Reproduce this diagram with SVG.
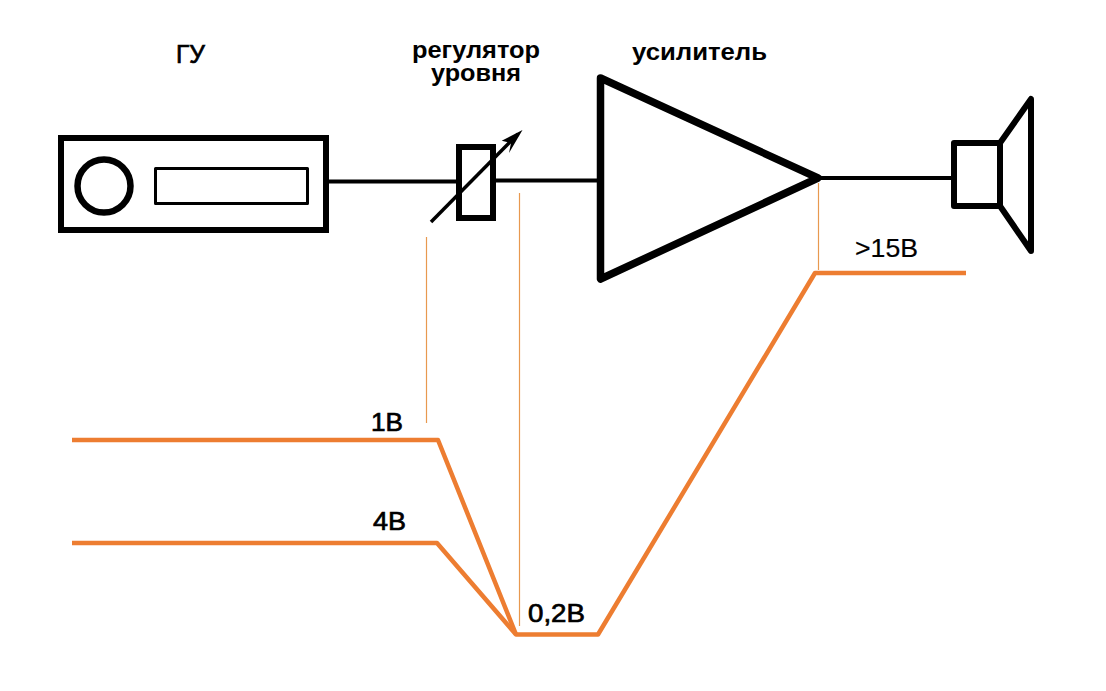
<svg xmlns="http://www.w3.org/2000/svg" width="1106" height="691" viewBox="0 0 1106 691">
<style>
.k{fill:none;stroke:#000;stroke-linejoin:round}
.w{fill:#fff;stroke:#000}
.o{fill:none;stroke:#ed7d31;stroke-width:4.500;stroke-linejoin:round}
.t{fill:none;stroke:#e8994f;stroke-width:1.200}
.l{stroke:#000;stroke-width:4;fill:none}
text{font-family:"Liberation Sans",Arial,sans-serif;fill:#000}
.b{font-weight:bold;font-size:24px}
.m{font-weight:normal;font-size:26px;stroke:#000;stroke-width:.7px}
</style>
<rect width="1106" height="691" fill="#fff"/>
<g id="connectors">
<path class="l" d="M329 181.500H456"/>
<path class="l" d="M496 180.500H600"/>
<path class="l" d="M820 178H952"/>
<path class="t" d="M426.500 237V423"/>
<path class="t" d="M519.500 193V626"/>
<path class="t" d="M818.500 183V270"/>
<path class="o" d="M72 440H438L516 634.500"/>
<path class="o" d="M72 543H437L516 634.500H598L815 273H966"/>
</g>
<g id="head-unit">
<rect class="w" x="61" y="138" width="265" height="92" stroke-width="6"/>
<circle class="k" cx="104" cy="186" r="26.500" stroke-width="6.500"/>
<rect class="k" x="155.500" y="168.500" width="152" height="35" stroke-width="3"/>
<text class="m" x="176" y="63" textLength="29" lengthAdjust="spacingAndGlyphs">ГУ</text>
</g>
<g id="level-control">
<rect class="w" x="459" y="147" width="34" height="71" stroke-width="6"/>
<path class="k" d="M431 222L518 134" stroke-width="3.500"/>
<polygon points="522.500,130 501.700,140.700 511,143 509,153" fill="#000"/>
<text class="b" x="412" y="58" textLength="128" lengthAdjust="spacingAndGlyphs">регулятор</text>
<text class="b" x="431" y="81" textLength="90" lengthAdjust="spacingAndGlyphs">уровня</text>
</g>
<g id="amplifier">
<polygon class="k" points="600.500,78 818,178 600.500,279" stroke-width="7.500"/>
<text class="b" x="632" y="60" textLength="135" lengthAdjust="spacingAndGlyphs">усилитель</text>
</g>
<g id="speaker">
<rect class="k" x="954" y="143" width="46" height="63" stroke-width="6"/>
<polygon class="k" points="1000,143 1031,99 1031,251 1000,206" stroke-width="6"/>
</g>
<g id="levels">
<text class="m" x="371" y="431" textLength="32" lengthAdjust="spacingAndGlyphs">1В</text>
<text class="m" x="373" y="530" textLength="33" lengthAdjust="spacingAndGlyphs">4В</text>
<text class="m" x="528" y="622" textLength="57" lengthAdjust="spacingAndGlyphs">0,2В</text>
<text class="m" x="855" y="257" textLength="63" lengthAdjust="spacingAndGlyphs" style="stroke-width:.2px">&gt;15В</text>
</g>
</svg>
